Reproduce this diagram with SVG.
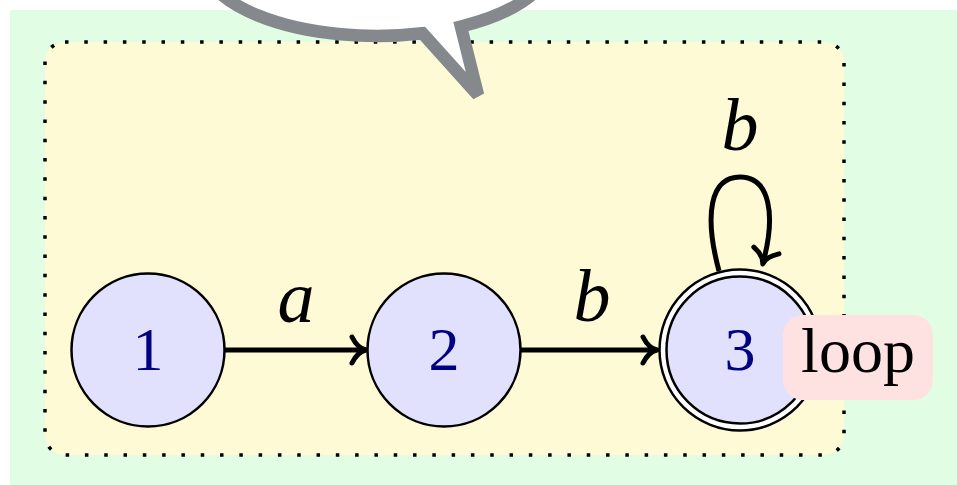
<svg xmlns="http://www.w3.org/2000/svg" width="957" height="485" viewBox="0 0 957 485">
<style>
.node{fill:#e1e1fd;stroke:#000;stroke-width:2.5}
.num{font-family:"Liberation Serif",serif;font-size:62px;fill:#000080;text-anchor:middle}
.lbl{font-family:"Liberation Serif",serif;font-style:italic;font-size:74px;fill:#000;text-anchor:middle}
.edge{fill:none;stroke:#000;stroke-width:5}
</style>
<defs>
<marker id="to" markerUnits="userSpaceOnUse" markerWidth="40" markerHeight="40" viewBox="-20 -20 40 40" refX="0" refY="0" orient="auto" overflow="visible">
<path d="M -13,-13 C -9,-5 -4,-1 1,0 C -4,1 -9,5 -13,13" fill="none" stroke="#000" stroke-width="5" stroke-linecap="round" stroke-linejoin="round"/>
</marker>
</defs>
<rect id="background" x="10" y="10" width="947" height="475" fill="#e1fde3"/>
<rect id="container" x="45" y="42" width="799" height="413" rx="20" fill="#fefad6" stroke="#000" stroke-width="3.5" stroke-dasharray="3.5 15.8"/>
<g id="connectors">
<line class="edge" x1="225" y1="350" x2="365" y2="350" marker-end="url(#to)"/>
<line class="edge" x1="521" y1="350" x2="656" y2="350" marker-end="url(#to)"/>
<path class="edge" d="M 719,271 C 704,215 710,177 740,177 C 770,177 776,215 763,263" marker-end="url(#to)"/>
<text class="lbl" x="296" y="322">a</text>
<text class="lbl" x="592" y="321">b</text>
<text class="lbl" x="740" y="150">b</text>
</g>
<g id="node1">
<circle class="node" cx="148" cy="350" r="76.5"/>
<text class="num" x="148" y="370">1</text>
</g>
<g id="node2">
<circle class="node" cx="444" cy="350" r="76.5"/>
<text class="num" x="444" y="370">2</text>
</g>
<g id="node3">
<circle cx="740" cy="350" r="77" fill="#e1e1fd" stroke="#000" stroke-width="9.5"/>
<circle cx="740" cy="350" r="77" fill="none" stroke="#fff" stroke-width="4.5"/>
<text class="num" x="740" y="370">3</text>
</g>
<g id="callout">
<path d="M 422.5,33.3 L 478,95 L 460.9,26.5 A 175 77 0 1 0 422.5,33.3 Z" fill="#fff" stroke="#85888c" stroke-width="12.5"/>
</g>
<g id="looplabel">
<rect x="783" y="315" width="150" height="85" rx="20" fill="#fee2e2"/>
<text x="858" y="372" font-family="Liberation Serif, serif" font-size="64" text-anchor="middle" fill="#000">loop</text>
</g>
</svg>
